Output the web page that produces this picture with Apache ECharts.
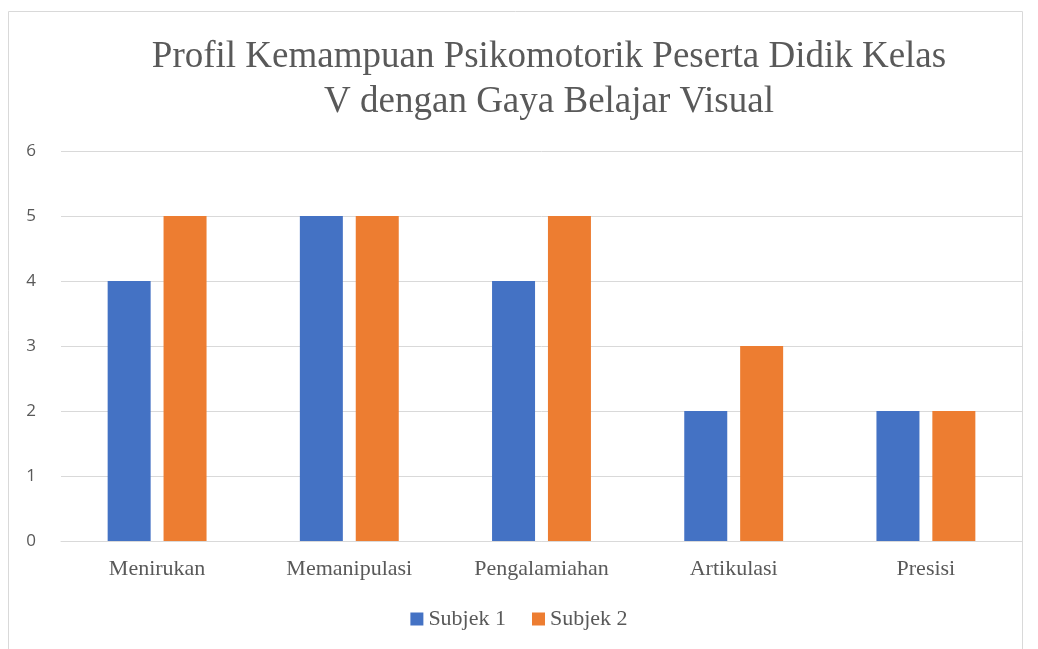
<!DOCTYPE html>
<html>
<head>
<meta charset="utf-8">
<script src="https://cdn.jsdelivr.net/npm/echarts@6/dist/echarts.min.js"></script>
<style>
  html, body { margin: 0; padding: 0; background: #fff; }
  #main { width: 1038px; height: 649px; }
</style>
</head>
<body>
<div id="main"></div>
<script>
const categories = ['Menirukan', 'Memanipulasi', 'Pengalamiahan', 'Artikulasi', 'Presisi']
const subjek1 = [4, 5, 4, 2, 2]
const subjek2 = [5, 5, 5, 3, 2]
const seriesNames = ['Subjek 1', 'Subjek 2']
const colors = ['#4472C4', '#ED7D31']

const serif = '"Liberation Serif", "DejaVu Serif", serif'
const chart = echarts.init(document.getElementById('main'))

chart.setOption({
  animation: false,
  color: colors,
  graphic: [
    {
      type: 'rect',
      shape: { x: 8.5, y: 11.5, width: 1014, height: 660 },
      style: { fill: 'none', stroke: '#d9d9d9', lineWidth: 1 },
      silent: true,
    },
  ],
  title: {
    text: 'Profil Kemampuan Psikomotorik Peserta Didik Kelas\nV dengan Gaya Belajar Visual',
    left: 544,
    top: 30,
    textAlign: 'center',
    textStyle: {
      fontFamily: serif,
      fontWeight: 'normal',
      fontSize: 37,
      lineHeight: 45,
      color: '#595959',
    },
  },
  legend: {
    data: seriesNames,
    bottom: 14,
    left: 'center',
    itemWidth: 13,
    itemHeight: 13,
    itemGap: 26,
    icon: 'rect',
    textStyle: { fontFamily: serif, fontSize: 22, color: '#595959' },
  },
  grid: { left: 61, right: 16, top: 151, bottom: 108, containLabel: false },
  xAxis: {
    type: 'category',
    data: categories,
    axisLine: { lineStyle: { color: '#d9d9d9', width: 1 } },
    axisTick: { show: false },
    axisLabel: { fontFamily: serif, fontSize: 22, color: '#595959', margin: 17 },
  },
  yAxis: {
    type: 'value',
    min: 0,
    max: 6,
    interval: 1,
    axisLine: { show: false },
    axisTick: { show: false },
    axisLabel: { fontFamily: '"Open Sans", "Noto Sans", sans-serif', fontSize: 17, color: '#595959', margin: 25 },
    splitLine: { lineStyle: { color: '#d9d9d9', width: 1 } },
  },
  series: [
    { name: seriesNames[0], type: 'bar', data: subjek1, barWidth: 43, barGap: '30%' },
    { name: seriesNames[1], type: 'bar', data: subjek2, barWidth: 43, barGap: '30%' },
  ],
})
</script>
</body>
</html>
